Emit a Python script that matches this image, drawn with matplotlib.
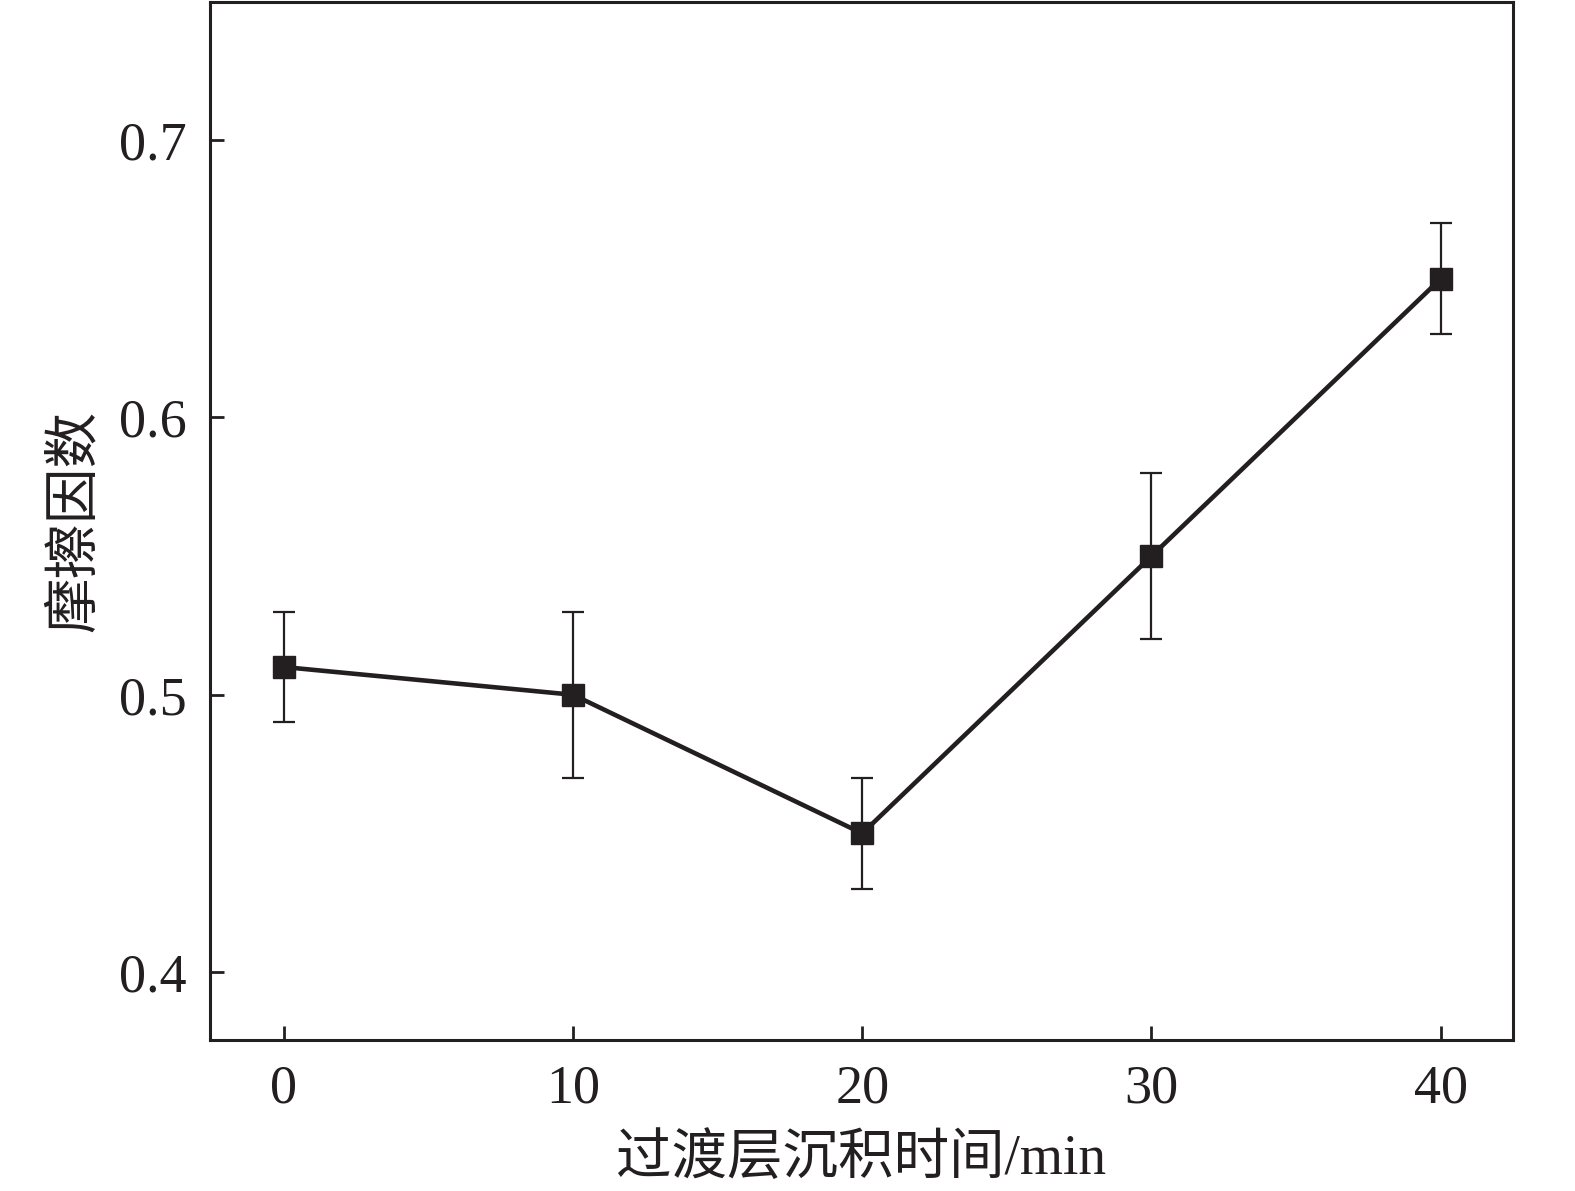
import matplotlib
matplotlib.use('Agg')
import matplotlib.pyplot as plt

# data
deposition_time = [0, 10, 20, 30, 40]
friction_coef = [0.51, 0.50, 0.45, 0.55, 0.65]
friction_err = [0.02, 0.03, 0.02, 0.03, 0.02]
x_ticks = [0, 10, 20, 30, 40]
y_ticks = [0.4, 0.5, 0.6, 0.7]

ink = '#231f20'
fonts = ['Liberation Serif', 'Noto Sans CJK SC']
plt.rcParams['font.family'] = fonts

fig = plt.figure(figsize=(15.75, 11.91), dpi=100)
ax = fig.add_axes([210/1575, 1 - 1040/1191, (1513-210)/1575, (1040-1.5)/1191])

ax.errorbar(deposition_time, friction_coef, yerr=friction_err, color=ink,
            linewidth=3.3, marker='s', markersize=16, ecolor=ink, elinewidth=1.6,
            capsize=8, capthick=1.6)

ax.set_xlim(-2.55, 42.5)
ax.set_ylim(0.3755, 0.75)
ax.set_xticks(x_ticks)
ax.set_yticks(y_ticks)
ax.set_yticklabels([f'{v:.1f}' for v in y_ticks])

for side in ['left', 'right', 'top', 'bottom']:
    ax.spines[side].set_linewidth(2.2)
    ax.spines[side].set_color(ink)

ax.tick_params(axis='both', direction='in', length=10, width=2, color=ink,
               labelsize=39, labelcolor=ink, pad=17)

ax.set_xlabel('过渡层沉积时间/min', fontsize=40, color=ink, family=fonts, labelpad=14)
ax.set_ylabel('摩擦因数', fontsize=40, color=ink, family=fonts, labelpad=12)

fig.savefig('out.png', dpi=100)
